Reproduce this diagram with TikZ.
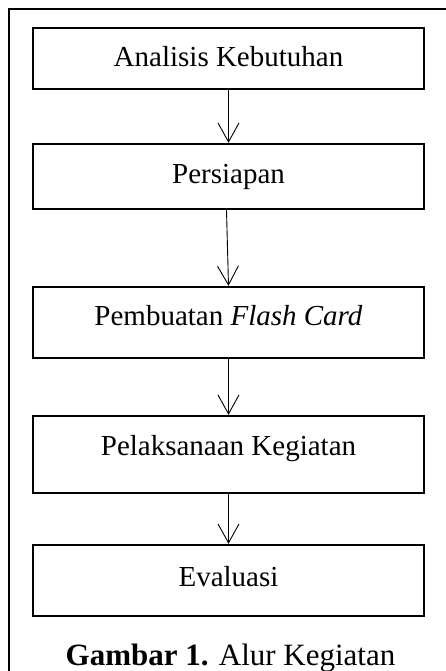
\documentclass[tikz,border=0pt]{standalone}
\usepackage{fontspec}
\setmainfont{Liberation Serif}
\usetikzlibrary{arrows.meta}
\tikzset{
  stepbox/.style={draw=black, line width=2.3pt, rectangle, minimum width=391pt,
    inner xsep=0pt, inner ysep=0pt, anchor=base, font=\fontsize{29}{34}\selectfont},
  flow/.style={line width=0.9pt, -{Straight Barb[length=19pt,width=21pt,line width=0.9pt]}},
  frame/.style={line width=2.6pt}
}
\begin{document}
\begin{tikzpicture}[x=1pt,y=-1pt]
\useasboundingbox (0,0) rectangle (446,671);
\draw[frame] (9,700) -- (9,9) -- (460,9);
\node[stepbox, text height=39pt, text depth=22pt] (b1) at (228.5,67) {Analisis Kebutuhan};
\node[stepbox, text height=39pt, text depth=26pt] (b2) at (228.5,183) {Persiapan};
\node[stepbox, text height=38pt, text depth=33pt] (b3) at (228.5,325) {Pembuatan \textit{Flash Card}};
\node[stepbox, text height=39pt, text depth=38pt] (b4) at (228.5,455) {Pelaksanaan Kegiatan};
\node[stepbox, text height=41pt, text depth=30pt] (b5) at (228.5,586) {Evaluasi};
\node[anchor=base, inner sep=0pt, font=\fontsize{31}{36}\selectfont] (cap) at (230.5,665) {\textbf{Gambar 1.} Alur Kegiatan};
\draw[flow] (b1.south) -- (b2.north);
\draw[flow] ([xshift=-2pt]b2.south) -- (b3.north);
\draw[flow] (b3.south) -- (b4.north);
\draw[flow] (b4.south) -- (b5.north);
\end{tikzpicture}
\end{document}
